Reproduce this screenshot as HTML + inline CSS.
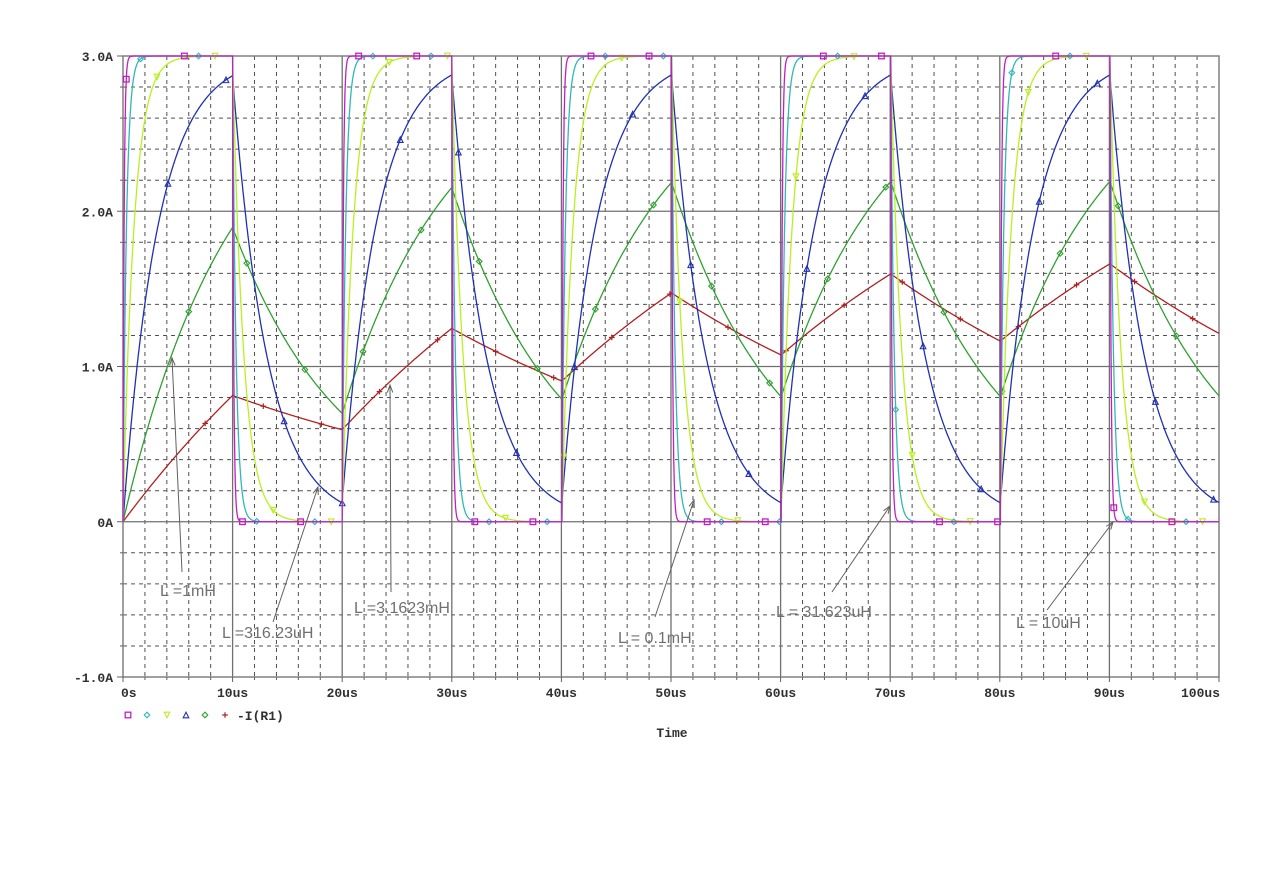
<!DOCTYPE html>
<html><head><meta charset="utf-8"><style>
html,body{margin:0;padding:0;background:#fff;width:1263px;height:893px;overflow:hidden}
svg{display:block}
.ax{font-family:"Liberation Mono",monospace;font-weight:bold;font-size:13px;fill:#303030}
.ann{font-family:"Liberation Sans",sans-serif;font-size:16px;fill:#707070}
</style></head><body>
<svg id="s" width="1263" height="893" xmlns="http://www.w3.org/2000/svg">
<g id="grid"></g>
<g id="traces"></g>
<g id="labels"></g>
</svg>
<script>
const NS="http://www.w3.org/2000/svg";
const X0=123,X1=1219,Y3=56,YM1=677;
const px=t=>X0+(t/100)*(X1-X0);
const py=a=>Y3+(3-a)*((YM1-Y3)/4);
const s=document.getElementById('s');
function el(tag,attrs,parent,text){const e=document.createElementNS(NS,tag);for(const k in attrs)e.setAttribute(k,attrs[k]);if(text!==undefined)e.textContent=text;(parent||s).appendChild(e);return e;}
const g=document.getElementById('grid');
for(let t=2;t<100;t+=2){if(t%10)el('line',{x1:px(t),x2:px(t),y1:Y3,y2:YM1,stroke:'#505050','stroke-width':1,'stroke-dasharray':'4,4'},g);}
for(let k=1;k<20;k++){if(k%5)el('line',{x1:X0,x2:X1,y1:Y3+k*(YM1-Y3)/20,y2:Y3+k*(YM1-Y3)/20,stroke:'#505050','stroke-width':1,'stroke-dasharray':'4,4'},g);}
for(let t=10;t<100;t+=10)el('line',{x1:px(t),x2:px(t),y1:Y3,y2:YM1,stroke:'#707070','stroke-width':1.3},g);
for(let a=0;a<=2;a++)el('line',{x1:X0,x2:X1,y1:py(a),y2:py(a),stroke:'#707070','stroke-width':1.3},g);
el('rect',{x:X0,y:Y3,width:X1-X0,height:YM1-Y3,fill:'none',stroke:'#808080','stroke-width':1.5},g);
for(let t=0;t<=100;t+=2){el('line',{x1:px(t),x2:px(t),y1:YM1,y2:YM1+(t%10?3:5),stroke:'#606060'},g);}
for(let k=0;k<=20;k++){const y=Y3+k*(YM1-Y3)/20;el('line',{x1:X0-(k%5?3:6),x2:X0,y1:y,y2:y,stroke:'#606060'},g);}
const yl=["3.0A","2.0A","1.0A","0A","-1.0A"];
yl.forEach((t,i)=>el('text',{x:113,y:Y3+i*(YM1-Y3)/4+5,'text-anchor':'end',class:'ax'},g,t));
for(let t=0;t<=100;t+=10){
 let anc='middle',x=px(t);
 if(t==0){anc='start';x=px(0)-2;} if(t==100){anc='end';x=px(100)+1;}
 el('text',{x:x,y:697,'text-anchor':anc,class:'ax'},g,t==0?'0s':t+'us');
}
el('text',{x:672,y:737,'text-anchor':'middle',class:'ax'},g,'Time');
const series=[
 {tau:0.1,c:'#c020c0',m:'sq',off:0.3},
 {tau:0.316,c:'#30b8b8',m:'di',off:1.6},
 {tau:1,c:'#b8f020',m:'dn',off:3.1},
 {tau:3.1623,c:'#2030b0',m:'up',off:4.1},
 {tau:10,c:'#30a030',m:'di',off:6.0},
 {tau:31.623,c:'#b02020',m:'pl',off:7.5}];
const tr=document.getElementById('traces');
function marker(x,y,type,c,par){
 const r=2.8;
 if(type=='sq')el('rect',{x:x-r,y:y-r,width:2*r,height:2*r,fill:'none',stroke:c,'stroke-width':1.3},par);
 else if(type=='di')el('path',{d:`M${x} ${y-r}L${x+r} ${y}L${x} ${y+r}L${x-r} ${y}Z`,fill:'none',stroke:c,'stroke-width':1.1},par);
 else if(type=='dn')el('path',{d:`M${x-r} ${y-r}L${x+r} ${y-r}L${x} ${y+r}Z`,fill:'none',stroke:c,'stroke-width':1.1},par);
 else if(type=='up')el('path',{d:`M${x-r} ${y+r}L${x+r} ${y+r}L${x} ${y-r}Z`,fill:'none',stroke:c,'stroke-width':1.1},par);
 else el('path',{d:`M${x-r} ${y}L${x+r} ${y}M${x} ${y-r}L${x} ${y+r}`,stroke:c,'stroke-width':1.2},par);
}
for(let si=series.length-1;si>=0;si--){
 const S=series[si];const dt=0.05;let i=0,vals=[];
 for(let t=0;t<=100.0001;t+=dt){vals.push([t,i]);const on=(t%20)<10;const tgt=on?3:0;i=tgt+(i-tgt)*Math.exp(-dt/S.tau);}
 let d='';vals.forEach((v,k)=>{d+=(k?'L':'M')+px(v[0]).toFixed(1)+' '+py(v[1]).toFixed(1);});
 el('path',{d,fill:'none',stroke:S.c,'stroke-width':1.3},tr);
 for(let t=S.off;t<100;t+=5.3){const k=Math.round(t/dt);marker(px(vals[k][0]),py(vals[k][1]),S.m,S.c,tr);}
}
const lg=document.getElementById('labels');
const lx=[128,147,167,186,205,225];
series.forEach((S,k)=>marker(lx[k],715,S.m,S.c,lg));
el('text',{x:237,y:720,class:'ax'},lg,'-I(R1)');
const ann=[
 ["L =1mH",160,596,182,572,172,358],
 ["L =316.23uH",222,638,273,622,318,487],
 ["L =3.1623mH",354,613,391,592,390,385],
 ["L = 0.1mH",618,643,655,617,694,500],
 ["L = 31.623uH",776,617,832,592,890,506],
 ["L = 10uH",1016,628,1047,610,1113,522]];
ann.forEach(a=>{
 el('line',{x1:a[3],y1:a[4],x2:a[5],y2:a[6],stroke:'#606060','stroke-width':1},lg);
 const ang=Math.atan2(a[6]-a[4],a[5]-a[3]);
 const h=(dA)=>[a[5]-8*Math.cos(ang+dA),a[6]-8*Math.sin(ang+dA)];
 const p1=h(0.35),p2=h(-0.35);
 el('path',{d:`M${p1[0]} ${p1[1]}L${a[5]} ${a[6]}L${p2[0]} ${p2[1]}`,fill:'none',stroke:'#606060'},lg);
 el('text',{x:a[1],y:a[2],class:'ann'},lg,a[0]);
});
</script>
</body></html>
